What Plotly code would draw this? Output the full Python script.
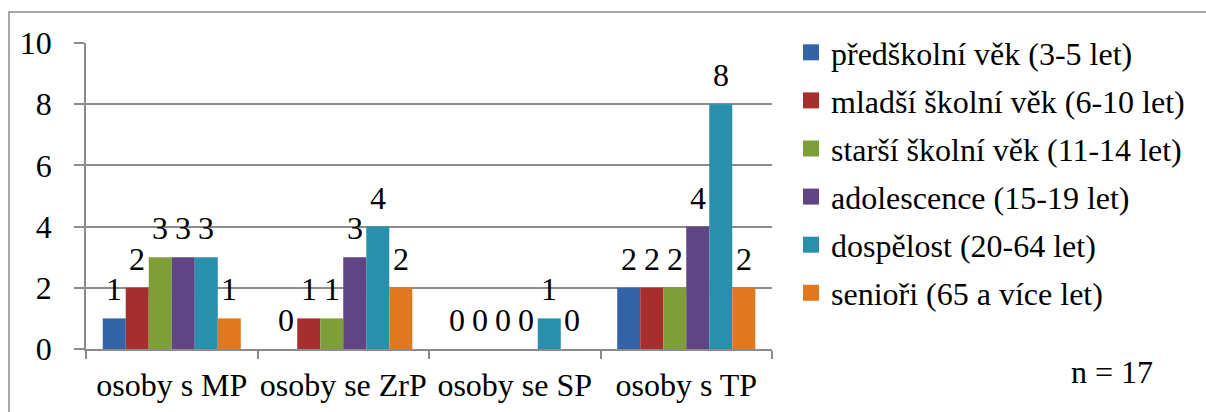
import plotly.graph_objects as go

# Categories (groups) and age-band series
categories = ["osoby s MP", "osoby se ZrP", "osoby se SP", "osoby s TP"]
series_names = [
    "předškolní věk (3-5 let)",
    "mladší školní věk (6-10 let)",
    "starší školní věk (11-14 let)",
    "adolescence (15-19 let)",
    "dospělost (20-64 let)",
    "senioři (65 a více let)",
]
predskolni = [1, 0, 0, 2]
mladsi_skolni = [2, 1, 0, 2]
starsi_skolni = [3, 1, 0, 2]
adolescence = [3, 3, 0, 4]
dospelost = [3, 4, 1, 8]
seniori = [1, 2, 0, 2]
series_values = [predskolni, mladsi_skolni, starsi_skolni, adolescence, dospelost, seniori]

y_ticks = [0, 2, 4, 6, 8, 10]
sample_note = "n = 17"

colors = ["#3463A8", "#A52F2E", "#7E9F38", "#5F4584", "#2A8FAB", "#E0781F"]
FONT = "Liberation Serif, Times New Roman, serif"
FS = 32
GRID = "#8c8c8c"
BARGAP = 0.195

W, H = 1206, 412
ML, MR, MT, MB = 86, 434, 43, 63

fig = go.Figure()

for name, vals, col in zip(series_names, series_values, colors):
    fig.add_trace(go.Bar(
        x=categories, y=vals, name=name,
        marker=dict(color=col, line=dict(width=0)),
        showlegend=False, hoverinfo="x+y+name",
    ))

# Legend entries (square swatches)
for i, (name, col) in enumerate(zip(series_names, colors)):
    fig.add_trace(go.Scatter(
        x=[None], y=[None], mode="markers", name=name,
        legendgroup=f"g{i}",
        marker=dict(symbol="square", size=17, color=col),
    ))

# Value labels above each bar, positioned by category index + group offset
n_series = len(series_values)
slot = (1 - BARGAP) / n_series
for si, vals in enumerate(series_values):
    for ci, v in enumerate(vals):
        fig.add_annotation(
            x=ci + (si - (n_series - 1) / 2) * slot, y=v,
            xref="x", yref="y", text=str(v), showarrow=False,
            yanchor="bottom", yshift=9,
            font=dict(family=FONT, size=FS, color="black"),
        )

plot_w = W - ML - MR
plot_h = H - MT - MB

def px_to_paper_x(px):
    return (px - ML) / plot_w

def px_to_paper_y(py):
    return (H - MB - py) / plot_h

# Outer chart frame
fig.add_shape(
    type="rect", xref="paper", yref="paper",
    x0=px_to_paper_x(9), x1=px_to_paper_x(1240),
    y0=px_to_paper_y(430), y1=px_to_paper_y(12),
    line=dict(color="#8a8a8a", width=1.5), fillcolor="rgba(0,0,0,0)",
    layer="below",
)

fig.add_annotation(
    x=px_to_paper_x(1112), y=px_to_paper_y(372), xref="paper", yref="paper",
    text=sample_note, showarrow=False, xanchor="center", yanchor="middle",
    font=dict(family=FONT, size=FS, color="black"),
)

fig.update_layout(
    width=W, height=H,
    margin=dict(l=ML, r=MR, t=MT, b=MB, pad=0, autoexpand=False),
    paper_bgcolor="white", plot_bgcolor="white",
    barmode="group", bargap=BARGAP, bargroupgap=0,
    font=dict(family=FONT, size=FS, color="black"),
    showlegend=True,
    legend=dict(
        x=px_to_paper_x(791), y=px_to_paper_y(25),
        xanchor="left", yanchor="top", maxheight=1,
        font=dict(family=FONT, size=FS, color="black"),
        tracegroupgap=3.5, bgcolor="rgba(0,0,0,0)",
        itemclick=False, itemdoubleclick=False,
    ),
    xaxis=dict(
        type="category", tickson="boundaries", tickangle=0, automargin=False,
        ticks="outside", ticklen=8, tickcolor=GRID, tickwidth=1.5,
        showline=True, linecolor=GRID, linewidth=1.5, ticklabelstandoff=7,
        showgrid=False, tickfont=dict(family=FONT, size=FS, color="black"),
        fixedrange=True,
    ),
    yaxis=dict(
        range=[0, 10], tickvals=y_ticks, automargin=False,
        ticks="outside", ticklen=10, tickcolor=GRID, tickwidth=1.5,
        showline=True, linecolor=GRID, linewidth=1.5,
        showgrid=True, gridcolor=GRID, gridwidth=1.5,
        zeroline=False, ticklabelstandoff=16,
        tickfont=dict(family=FONT, size=FS, color="black"),
        fixedrange=True,
    ),
)

fig.write_html("out.html")
